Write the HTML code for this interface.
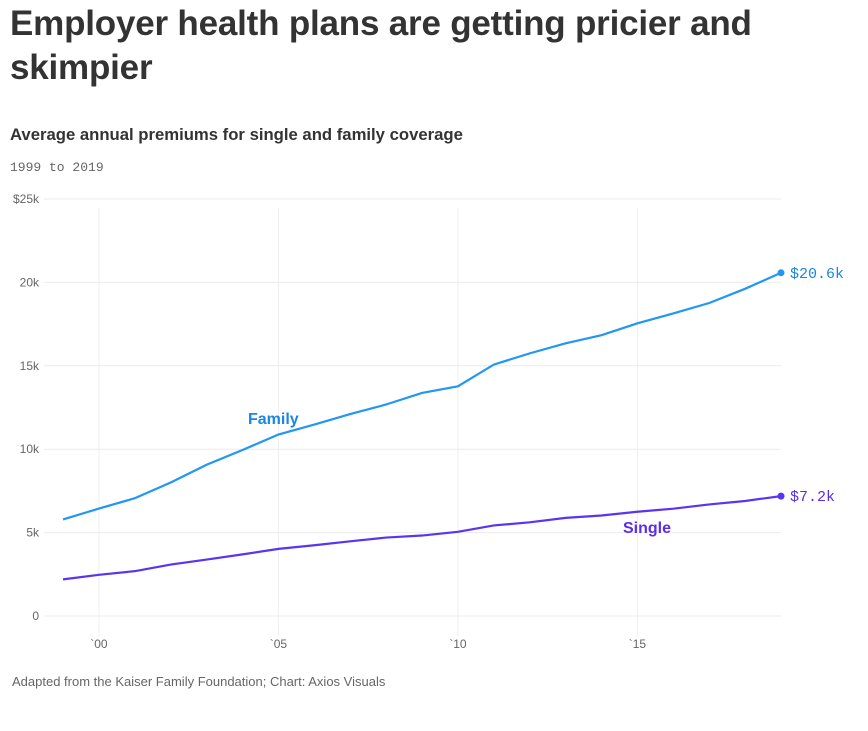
<!DOCTYPE html>
<html><head><meta charset="utf-8"><style>
body{margin:0;background:#fff;width:868px;height:731px;overflow:hidden;font-family:"Liberation Sans",sans-serif;}
h1{position:absolute;left:10px;top:2px;margin:0;font-size:35px;line-height:44px;font-weight:600;color:#333;letter-spacing:-0.2px;width:840px}
h2{position:absolute;left:10px;top:125px;margin:0;font-size:16.7px;font-weight:600;color:#333}
.sub{position:absolute;left:10px;top:160px;font-family:"Liberation Mono",monospace;font-size:13px;color:#666}
.foot{position:absolute;left:12px;top:674px;font-size:13px;color:#666}
svg{position:absolute;left:0;top:0}
</style></head><body>
<h1>Employer health plans are getting pricier and skimpier</h1>
<h2>Average annual premiums for single and family coverage</h2>
<div class="sub">1999 to 2019</div>
<svg id="c" width="868" height="731"></svg>
<div class="foot">Adapted from the Kaiser Family Foundation; Chart: Axios Visuals</div>
<script>
const years=[1999,2000,2001,2002,2003,2004,2005,2006,2007,2008,2009,2010,2011,2012,2013,2014,2015,2016,2017,2018,2019];
const family=[5791,6438,7061,8003,9068,9950,10880,11480,12106,12680,13375,13770,15073,15745,16351,16834,17545,18142,18764,19616,20576];
const single=[2196,2471,2689,3083,3383,3695,4024,4242,4479,4704,4824,5049,5429,5615,5884,6025,6251,6435,6690,6896,7188];
const yTicks=[0,5000,10000,15000,20000,25000];
const yTickLabels=["0","5k","10k","15k","20k","$25k"];
const xTicks=[2000,2005,2010,2015];
const xTickLabels=["`00","`05","`10","`15"];
const NS="http://www.w3.org/2000/svg",svg=document.getElementById('c');
const x=v=>63+(v-1999)*35.9;
const y=v=>616-v*(417/25000);
function el(t,a,p){const e=document.createElementNS(NS,t);for(const k in a)e.setAttribute(k,a[k]);(p||svg).appendChild(e);return e;}
xTicks.forEach((t,i)=>{
 const l=el('line',{x1:x(t),x2:x(t),y1:208,y2:636,stroke:'#efefef'});
 
 
 const tx=el('text',{x:x(t),y:648,'text-anchor':'middle','font-size':12,fill:'#666','font-family':'Liberation Sans,sans-serif'});
 tx.textContent=xTickLabels[i];
 
 
});
yTicks.forEach((t,i)=>{
 const l=el('line',{x1:44,x2:781,y1:y(t),y2:y(t),stroke:'#ececec'});
 
 
 const tx=el('text',{x:39,y:y(t)+4,'text-anchor':'end','font-size':12,fill:'#666','font-family':'Liberation Sans,sans-serif'});
 tx.textContent=yTickLabels[i];
 
 
});
function series(data,color,name,label,lx,ly,lc,endLabel){
 const p=el('polyline',{points:data.map((v,i)=>x(years[i])+','+y(v)).join(' '),fill:'none',stroke:color,'stroke-width':2.2});
 
 
 const n=data.length-1;
 const d=el('circle',{cx:x(years[n]),cy:y(data[n]),r:3.5,fill:color});
 
 
 const e=el('text',{x:x(years[n])+9,y:y(data[n])+5,'font-size':15,fill:lc,'font-family':'Liberation Mono,monospace'});
 e.textContent=endLabel;
 
 
 const s=el('text',{x:lx,y:ly,'font-size':16,'font-weight':'bold',fill:lc,'font-family':'Liberation Sans,sans-serif'});
 s.textContent=label;
 
 
}
series(family,'#2196f3','family','Family',248,424,'#1a86e0','$20.6k');
series(single,'#5b33f0','single','Single',623,533,'#5a2ee6','$7.2k');
</script>
</body></html>
